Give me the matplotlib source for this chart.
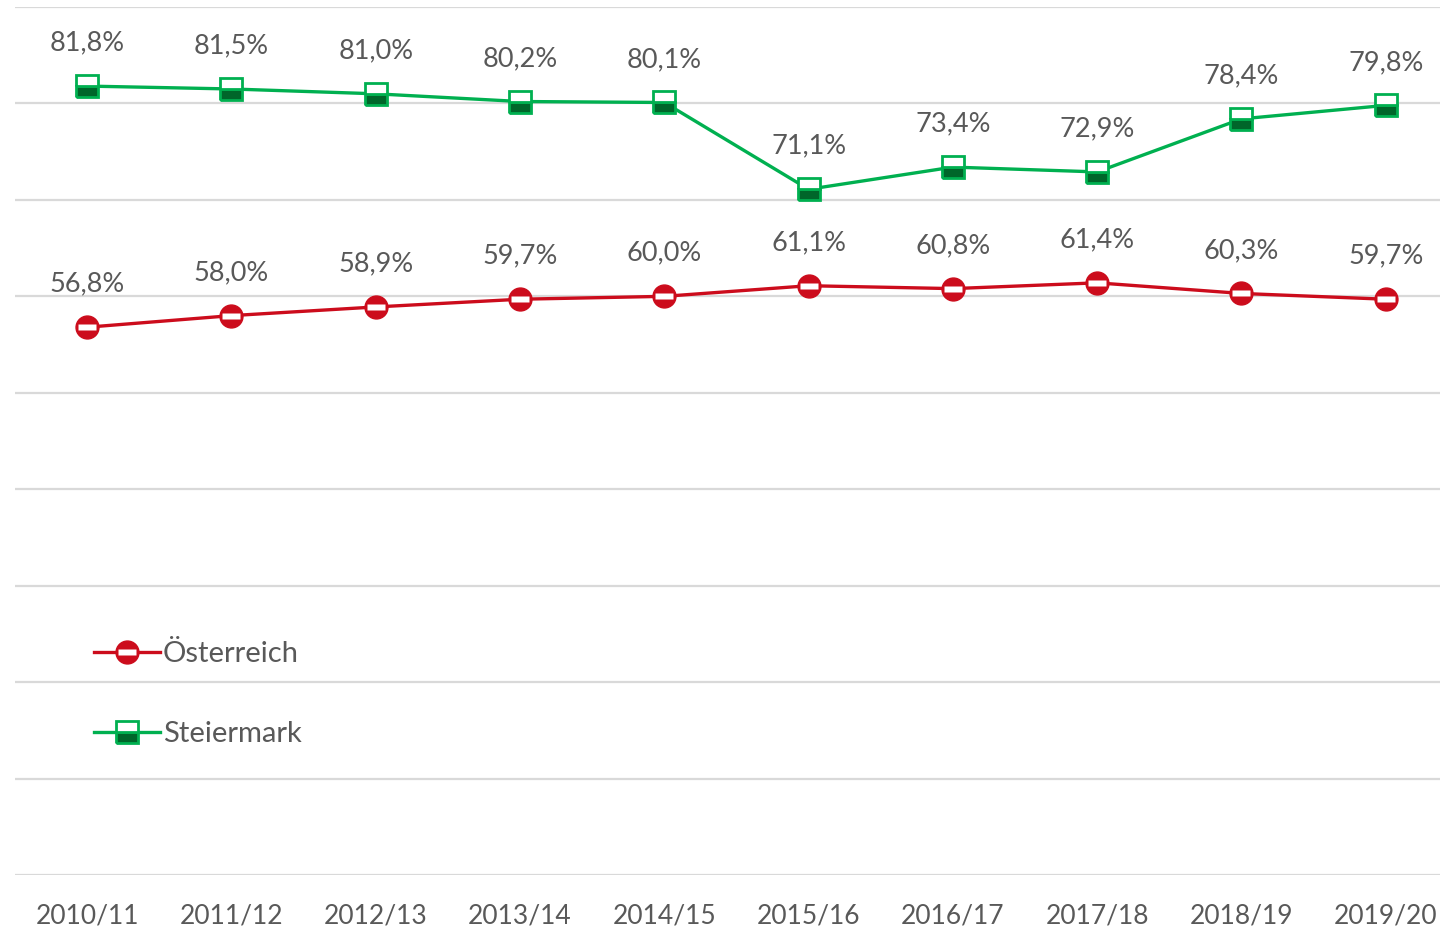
import matplotlib.pyplot as plt
import numpy as np
from matplotlib.path import Path
from matplotlib.legend_handler import HandlerTuple

years = ['2010/11', '2011/12', '2012/13', '2013/14', '2014/15',
         '2015/16', '2016/17', '2017/18', '2018/19', '2019/20']
oesterreich = [56.8, 58.0, 58.9, 59.7, 60.0, 61.1, 60.8, 61.4, 60.3, 59.7]
steiermark = [81.8, 81.5, 81.0, 80.2, 80.1, 71.1, 73.4, 72.9, 78.4, 79.8]

plt.rcParams['font.family'] = ['Lato', 'DejaVu Sans']
grey = '#595959'
red = '#cc0c1c'
green = '#00b050'
dgreen = '#00662a'

fig = plt.figure(figsize=(14.4, 9.27), dpi=100)
ax = fig.add_axes([15/1440, 1 - 875/927, 1425/1440, 868/927])

x = np.arange(len(years))
bar = Path([(-1, -0.4), (1, -0.4), (1, 0.4), (-1, 0.4), (-1, -0.4)],
           [Path.MOVETO, Path.LINETO, Path.LINETO, Path.LINETO, Path.CLOSEPOLY])

ms = 16.5
# Österreich
l_at, = ax.plot(x, oesterreich, color=red, lw=2.4, marker='o', ms=ms,
                mfc=red, mec=red, zorder=3)
b_at, = ax.plot(x, oesterreich, ls='none', marker=bar, ms=ms * 0.75,
                mfc='white', mec='none', zorder=4)
# Steiermark
l_st, = ax.plot(x, steiermark, color=green, lw=2.4, marker='s', ms=ms,
                fillstyle='bottom', mfc=dgreen, mfcalt='white', mec=green,
                mew=2, zorder=3)

for xi, v in zip(x, oesterreich):
    ax.annotate(f'{v:.1f}%'.replace('.', ','), (xi, v), xytext=(0, 31),
                textcoords='offset points', ha='center', va='center',
                fontsize=19.5, color=grey)
for xi, v in zip(x, steiermark):
    ax.annotate(f'{v:.1f}%'.replace('.', ','), (xi, v), xytext=(0, 31),
                textcoords='offset points', ha='center', va='center',
                fontsize=19.5, color=grey)

ax.set_ylim(0, 90)
ax.set_xlim(-0.5, 9.376)
ax.set_yticks(np.arange(0, 91, 10))
ax.grid(axis='y', color='#d9d9d9', lw=1.6)
ax.set_axisbelow(True)
ax.tick_params(axis='y', left=False, labelleft=False)
ax.tick_params(axis='x', bottom=False, pad=17, labelsize=19, labelcolor=grey)
ax.set_xticks(x)
ax.set_xticklabels(years)
for s in ax.spines.values():
    s.set_visible(False)

leg = ax.legend([(l_at, b_at), l_st], ['Österreich', 'Steiermark'],
                handler_map={tuple: HandlerTuple(ndivide=1)},
                loc='upper left', bbox_to_anchor=(0.0454, 0.286),
                frameon=False, fontsize=21, handlelength=2.25,
                handletextpad=0.1, labelspacing=1.85, borderpad=0)
for t in leg.get_texts():
    t.set_color(grey)

fig.savefig('out.png', dpi=100)
